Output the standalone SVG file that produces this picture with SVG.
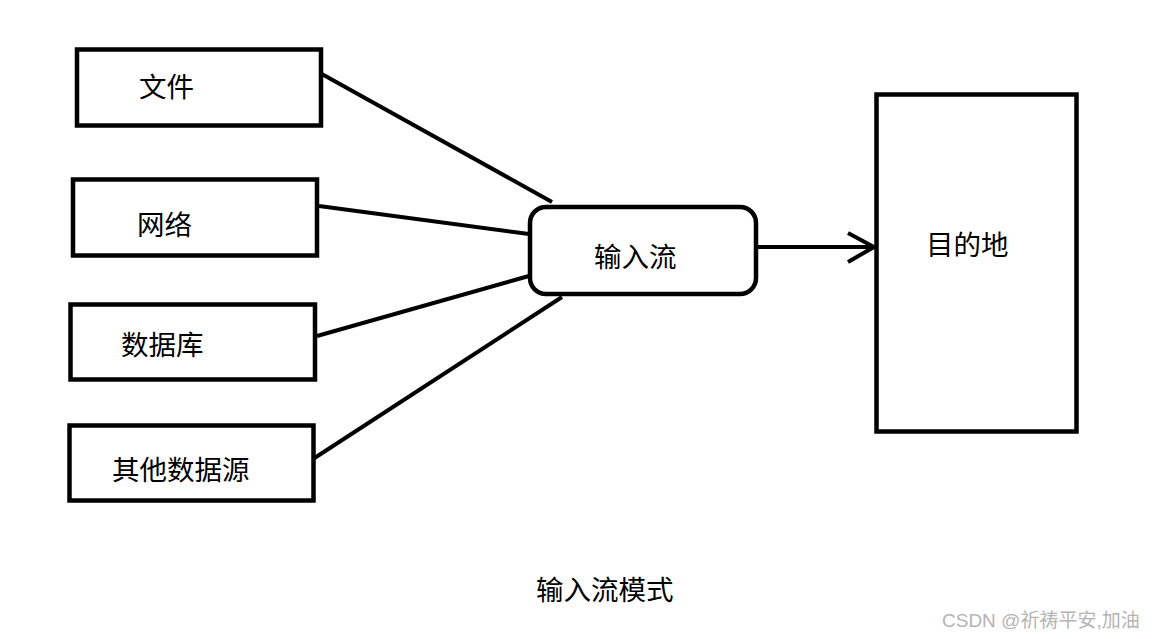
<svg xmlns="http://www.w3.org/2000/svg" width="1153" height="639" viewBox="0 0 1153 639">
<style>
.box{fill:#fff;stroke:#000;stroke-width:4.5}
.ln{stroke:#000;stroke-width:4;fill:none;stroke-linecap:butt}
.t{font-family:"Noto Sans CJK SC","Microsoft YaHei",sans-serif;font-size:27.5px;fill:#000}
.wm{font-family:"Liberation Sans","Noto Sans CJK SC",sans-serif;font-size:19px;fill:#b4b4b4}
</style>
<rect width="1153" height="639" fill="#fff"/>
<g id="connectors">
<line class="ln" x1="320" y1="73" x2="552" y2="202"/>
<line class="ln" x1="319" y1="206" x2="529" y2="234"/>
<line class="ln" x1="317" y1="336" x2="529" y2="276"/>
<line class="ln" x1="313" y1="459" x2="562" y2="297"/>
<line class="ln" x1="757" y1="247" x2="876" y2="247"/>
<polyline class="ln" points="848,233 874,247 848,262"/>
</g>
<g id="file"><rect class="box" x="77" y="49.5" width="244" height="76"/><text class="t" x="139" y="97">文件</text></g>
<g id="network"><rect class="box" x="73" y="179.5" width="244" height="76"/><text class="t" x="137" y="235">网络</text></g>
<g id="database"><rect class="box" x="70.5" y="304.5" width="244.5" height="75"/><text class="t" x="121" y="355">数据库</text></g>
<g id="other"><rect class="box" x="69.5" y="425.5" width="244" height="75"/><text class="t" x="112" y="480">其他数据源</text></g>
<g id="inputstream"><rect class="box" x="530" y="207" width="226" height="87" rx="16" ry="16"/><text class="t" x="594" y="267">输入流</text></g>
<g id="destination"><rect class="box" x="876.5" y="94.5" width="200" height="337"/><text class="t" x="926" y="255">目的地</text></g>
<g id="caption"><text class="t" x="536" y="600">输入流模式</text></g>
<text class="wm" x="942" y="627">CSDN @祈祷平安,加油</text>
</svg>
